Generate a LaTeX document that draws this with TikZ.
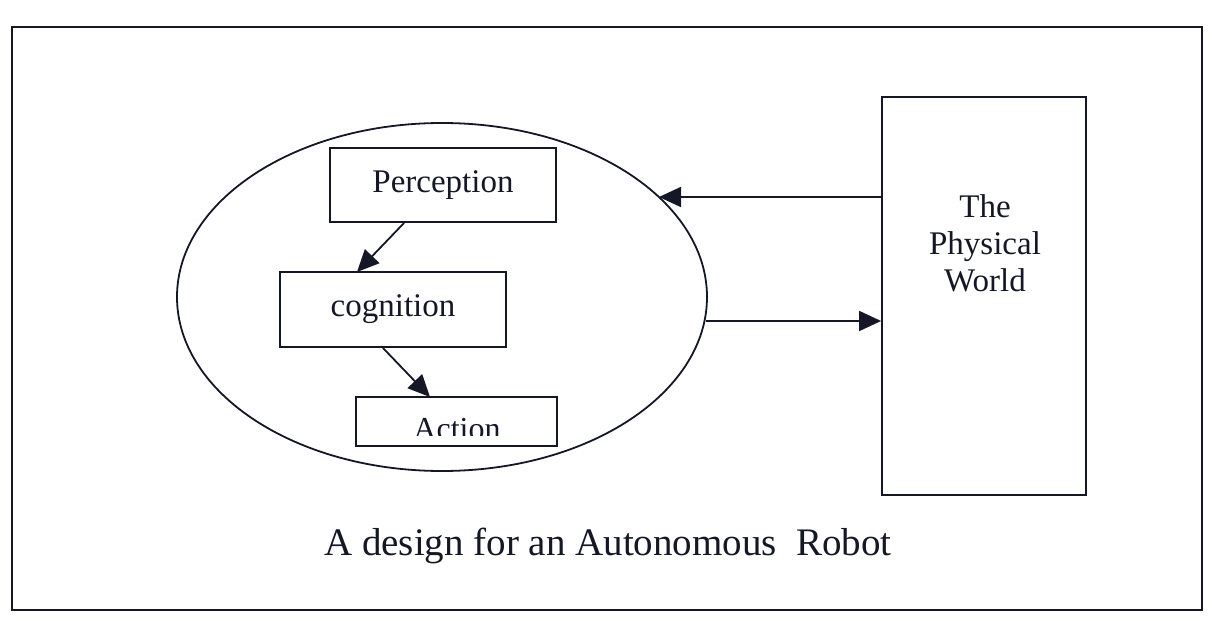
\documentclass[tikz,border=0pt]{standalone}
\usepackage{fontspec}
\setmainfont{Liberation Serif}
\usetikzlibrary{arrows.meta,shapes.geometric}
\definecolor{ink}{HTML}{141826}
\tikzset{
  line/.style={draw=ink,line width=1.8pt},
  box/.style={line,rectangle,inner sep=0pt,font=\fontsize{33}{37}\selectfont,text=ink},
  arr/.style={line,-{Triangle[length=22pt,width=20pt]}},
}
\begin{document}
\begin{tikzpicture}[x=1pt,y=-1pt]
\useasboundingbox (0,0) rectangle (1216,624);
\node[line,rectangle,minimum width=1190pt,minimum height=583pt,inner sep=0pt] (frame) at (607,318.5) {};
\node[line,ellipse,minimum width=530pt,minimum height=348pt,inner sep=0pt] (robot) at (442,297) {};
\node[box,minimum width=226pt,minimum height=74pt] (perc) at (443,185) {Perception};
\node[box,minimum width=226pt,minimum height=75pt] (cog) at (393,309.5) {cognition};
\node[box,minimum width=201pt,minimum height=49pt] (act) at (456.5,421.5) {};
\begin{scope}
  \clip (357,398) rectangle (556,435);
  \node[anchor=base,font=\fontsize{32}{36}\selectfont,text=ink] (acttext) at (457,439) {Action};
\end{scope}
\node[line,rectangle,minimum width=204pt,minimum height=398pt,inner sep=0pt] (pw) at (984,296) {};
\node[align=center,font=\fontsize{33}{37}\selectfont,text=ink] (pwtext) at (985,243) {The\\Physical\\World};
\coordinate (inA) at (659,197);
\coordinate (outA) at (706,321);
\draw[arr] (pw.west |- inA) -- (inA);
\draw[arr] (outA) -- (pw.west |- outA);
\coordinate (p1) at (404,223);
\coordinate (c1) at (357,272);
\coordinate (c2) at (383,348);
\coordinate (a1) at (430,397);
\draw[arr] (p1) -- (c1);
\draw[arr] (c2) -- (a1);
\node[anchor=base,font=\fontsize{39}{44}\selectfont,text=ink] (cap) at (608,555) {A design for an Autonomous\ \ Robot};
\end{tikzpicture}
\end{document}
